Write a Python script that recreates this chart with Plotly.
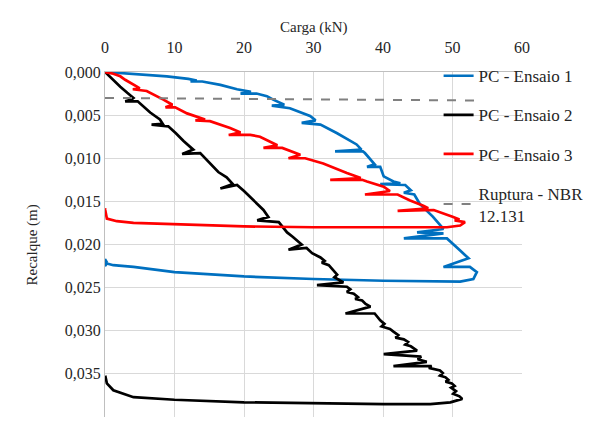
import plotly.graph_objects as go

# Load (kN) / settlement (m) readings for the three plate tests
carga_1 = [0, 4.1, 8.9, 12.0, 13.2, 12.3, 14.0, 16.6, 19.0, 21.0, 19.5, 21.8, 23.3, 24.2,
           25.8, 24.0, 26.6, 29.5, 30.3, 28.3, 31.0, 33.4, 34.8, 36.2, 36.9, 33.1, 37.1,
           37.4, 38.8, 37.7, 39.6, 40.1, 41.5, 42.5, 39.6, 43.2, 44.0, 43.0, 44.5, 45.3,
           47.2, 48.7, 44.9, 48.7, 43.0, 49.2, 51.1, 52.3, 48.7, 52.5, 53.5, 53.0, 51.1,
           40.1, 30.0, 20.0, 10.0, 4.1, 1.2, 0.27, 0.0, 0.0, 0.3]
recalque_1 = [0, 0.0002, 0.0005, 0.0008, 0.0010, 0.0011, 0.0011, 0.0015, 0.0020, 0.0023,
              0.0025, 0.0025, 0.0028, 0.0032, 0.0038, 0.0039, 0.0042, 0.0051, 0.0056,
              0.0059, 0.0061, 0.0071, 0.0078, 0.0084, 0.0090, 0.0092, 0.0092, 0.0094,
              0.0107, 0.0110, 0.0110, 0.0121, 0.0127, 0.0129, 0.0130, 0.0131, 0.0137,
              0.0140, 0.0142, 0.0153, 0.0168, 0.0182, 0.0186, 0.0187, 0.0193, 0.0193,
              0.0207, 0.0216, 0.0226, 0.0226, 0.0232, 0.0240, 0.0243, 0.0242, 0.0240,
              0.0237, 0.0232, 0.0226, 0.0224, 0.0222, 0.0225, 0.0217, 0.0221]

carga_2 = [0, 1.0, 2.2, 3.2, 4.1, 3.8, 2.9, 4.7, 5.5, 6.5, 7.9, 8.3, 6.7, 9.1, 10.2, 11.3,
           12.7, 11.1, 13.7, 15.1, 16.3, 17.5, 18.4, 16.6, 19.0, 20.0, 20.9, 22.2, 22.8,
           23.5, 21.9, 25.0, 25.6, 26.2, 27.0, 27.6, 28.3, 26.4, 29.0, 29.8, 30.3, 31.0,
           31.6, 31.2, 32.2, 32.9, 33.4, 33.0, 34.3, 30.5, 34.8, 35.3, 34.8, 35.8, 36.4,
           36.0, 37.0, 37.5, 38.2, 34.6, 38.8, 39.6, 40.2, 39.8, 41.0, 41.5, 42.2, 41.8,
           43.0, 43.6, 43.2, 44.0, 44.9, 40.1, 45.5, 45.0, 46.3, 41.5, 47.0, 46.6, 48.2,
           48.6, 48.2, 49.0, 49.4, 49.0, 49.9, 50.3, 49.8, 50.5, 50.1, 51.0, 51.4, 49.7,
           46.8, 40.1, 30.0, 20.0, 10.0, 4.1, 1.2, 0.27, 0.03]
recalque_2 = [0, 0.0008, 0.0017, 0.0024, 0.0030, 0.0032, 0.0034, 0.0034, 0.0040, 0.0047,
              0.0055, 0.0060, 0.0061, 0.0063, 0.0071, 0.0080, 0.0090, 0.0095, 0.0094,
              0.0106, 0.0116, 0.0122, 0.0130, 0.0135, 0.0131, 0.0138, 0.0145, 0.0155,
              0.0160, 0.0168, 0.0172, 0.0174, 0.0180, 0.0186, 0.0191, 0.0195, 0.0200,
              0.0206, 0.0204, 0.0210, 0.0212, 0.0215, 0.0219, 0.0221, 0.0224, 0.0230,
              0.0235, 0.0238, 0.0244, 0.0247, 0.0249, 0.0252, 0.0255, 0.0257, 0.0261,
              0.0263, 0.0265, 0.0269, 0.0272, 0.0280, 0.0280, 0.0288, 0.0292, 0.0295,
              0.0298, 0.0301, 0.0305, 0.0308, 0.0310, 0.0313, 0.0316, 0.0318, 0.0323,
              0.0327, 0.0330, 0.0333, 0.0336, 0.0341, 0.0341, 0.0343, 0.0346, 0.0349,
              0.0352, 0.0354, 0.0357, 0.0359, 0.0361, 0.0364, 0.0366, 0.0370, 0.0373,
              0.0376, 0.0379, 0.0383, 0.0385, 0.0385, 0.0384, 0.0383, 0.0380, 0.0377,
              0.0369, 0.0361, 0.0352]

carga_3 = [0, 1.2, 2.2, 2.9, 4.6, 5.0, 4.0, 5.6, 6.0, 8.4, 9.7, 8.7, 10.1, 11.8, 14.4,
           13.0, 15.1, 18.0, 19.5, 17.8, 20.9, 22.3, 24.8, 22.8, 25.5, 28.1, 26.4, 28.8,
           31.4, 34.8, 36.8, 32.4, 37.0, 37.7, 40.1, 41.0, 37.4, 42.1, 43.9, 45.8, 46.5,
           42.1, 47.3, 50.1, 51.0, 50.3, 51.8, 51.1, 49.2, 40.1, 30.0, 20.0, 10.0, 4.1,
           1.7, 0.27, 0.03, 0.0]
recalque_3 = [0, 0.0002, 0.0005, 0.0009, 0.0017, 0.0019, 0.0020, 0.0021, 0.0022, 0.0032,
              0.0038, 0.0041, 0.0041, 0.0048, 0.0055, 0.0056, 0.0057, 0.0065, 0.0070,
              0.0073, 0.0073, 0.0075, 0.0085, 0.0088, 0.0088, 0.0096, 0.0100, 0.0100,
              0.0106, 0.0117, 0.0123, 0.0125, 0.0125, 0.0127, 0.0133, 0.0138, 0.0142,
              0.0142, 0.0149, 0.0155, 0.0158, 0.0161, 0.0160, 0.0168, 0.0171, 0.0172,
              0.0174, 0.0178, 0.0180, 0.0180, 0.0180, 0.0179, 0.0177, 0.0175, 0.0173,
              0.0170, 0.0160, 0.0158]

# Failure criterion line (NBR 12.131)
carga_ruptura = [0, 53.1]
recalque_ruptura = [0.0030, 0.0033]

# Axis ticks
carga_ticks = [0, 10, 20, 30, 40, 50, 60]
recalque_ticks = [0.000, 0.005, 0.010, 0.015, 0.020, 0.025, 0.030, 0.035, 0.040]

series = [
    ("PC - Ensaio 1", carga_1, recalque_1, "#0070C0"),
    ("PC - Ensaio 2", carga_2, recalque_2, "#000000"),
    ("PC - Ensaio 3", carga_3, recalque_3, "#FF0000"),
]

SERIF = "Liberation Serif"
TXT = "#262626"

fig = go.Figure()
for i, (nome, x, y, cor) in enumerate(series):
    fig.add_trace(go.Scatter(x=x, y=y, mode="lines", name=nome, legendgroup=str(i),
                             line=dict(color=cor, width=2.7)))
fig.add_trace(go.Scatter(x=carga_ruptura, y=recalque_ruptura, mode="lines",
                         name="Ruptura - NBR<br>12.131", legendgroup="r",
                         line=dict(color="#808080", width=2, dash="dash")))

axis_style = dict(showgrid=True, gridcolor="#D9D9D9", gridwidth=1.3, zeroline=False,
                  showline=True, linecolor="#BFBFBF", linewidth=1.3,
                  tickfont=dict(family=SERIF, size=16, color=TXT))

fig.update_layout(
    width=597, height=424,
    margin=dict(l=105, r=75, t=72, b=7),
    paper_bgcolor="white", plot_bgcolor="white",
    font=dict(family=SERIF, color=TXT),
    separators=",.",
    showlegend=True,
    legend=dict(x=0.8, y=1.04, xanchor="left", yanchor="top",
                bgcolor="rgba(0,0,0,0)", font=dict(family=SERIF, size=17, color=TXT),
                tracegroupgap=14),
    xaxis=dict(side="top", range=[0, 60], tickvals=carga_ticks, ticklabelstandoff=11,
               **axis_style),
    yaxis=dict(range=[0.040, 0], tickvals=recalque_ticks, tickformat=".3f",
               **axis_style),
)

# Axis titles
fig.add_annotation(text="Carga (kN)", xref="paper", yref="paper", x=0.5, y=1.1304,
                   xanchor="center", yanchor="middle", showarrow=False,
                   font=dict(family=SERIF, size=15, color=TXT))
fig.add_annotation(text="Recalque (m)", xref="paper", yref="paper", x=-0.1727, y=0.5,
                   xanchor="center", yanchor="middle", textangle=-90, showarrow=False,
                   font=dict(family=SERIF, size=15, color=TXT))

fig.write_html("out.html")
